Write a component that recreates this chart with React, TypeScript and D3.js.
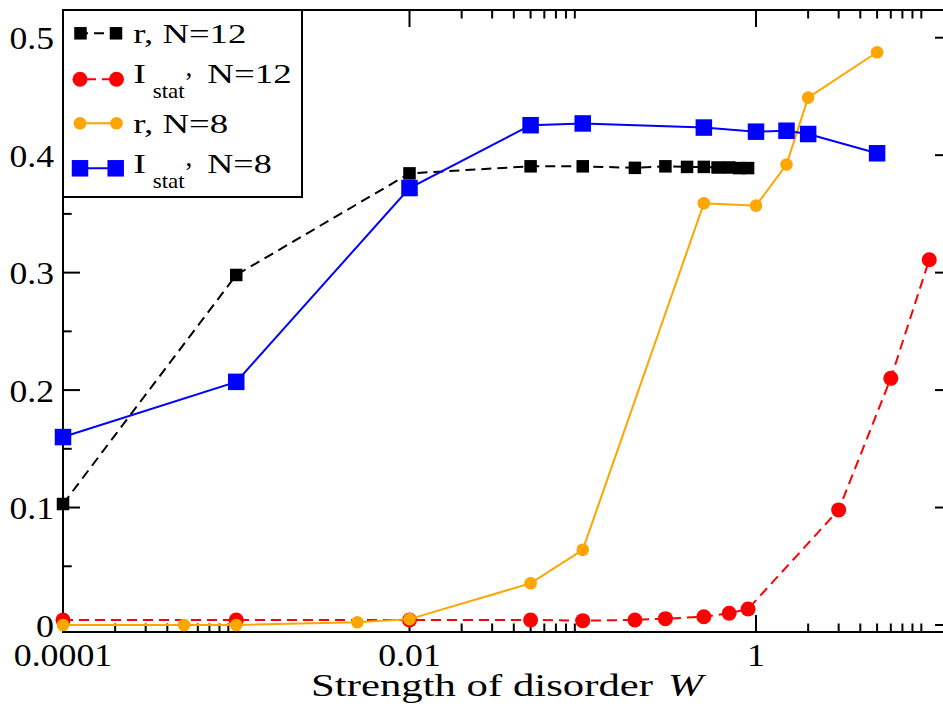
import React from "react";
import * as d3 from "d3";

// ---- data ----
const rN12X = [1e-4, 1e-3, 1e-2, 0.05, 0.1, 0.2, 0.3, 0.4, 0.5, 0.6, 0.7, 0.8, 0.9];
const rN12Y = [0.103, 0.298, 0.3845, 0.3905, 0.3905, 0.3892, 0.3905, 0.390, 0.390, 0.3895, 0.3895, 0.389, 0.389];

const iN12X = [1e-4, 1e-3, 1e-2, 0.05, 0.1, 0.2, 0.3, 0.5, 0.7, 0.9, 3, 6, 10];
const iN12Y = [0.0043, 0.0043, 0.0043, 0.0043, 0.0037, 0.0043, 0.0054, 0.007, 0.010, 0.0136, 0.098, 0.210, 0.311];

const rN8X = [1e-4, 5e-4, 1e-3, 5e-3, 1e-2, 0.05, 0.1, 0.5, 1, 1.5, 2, 5];
const rN8Y = [0.0, 0.0, 0.0, 0.0023, 0.005, 0.0355, 0.064, 0.359, 0.357, 0.392, 0.449, 0.4876];

const iN8X = [1e-4, 1e-3, 1e-2, 0.05, 0.1, 0.5, 1, 1.5, 2, 5];
const iN8Y = [0.160, 0.207, 0.372, 0.4255, 0.427, 0.4235, 0.420, 0.4208, 0.418, 0.4016];

const yTicks = [0, 0.1, 0.2, 0.3, 0.4, 0.5];
const yTickLabels = ["0", "0.1", "0.2", "0.3", "0.4", "0.5"];
const yMinorTicks = [0.05, 0.15, 0.25, 0.35, 0.45];
const xMajorTicks = [1e-4, 1e-2, 1];
const xTickLabels = ["0.0001", "0.01", "1"];
const minorMultipliers = [2, 3, 4, 5, 6, 7, 8, 9];

const FONT = '"Liberation Serif", "Times New Roman", Times, serif';

export default function App() {
  const W = 943, H = 713;
  const left = 63, right = 952, top = 10, bottom = 632;
  const decade = 173.25;
  const xMax = Math.pow(10, -4 + (right - left) / decade);
  const x = d3.scaleLog().domain([1e-4, xMax]).range([left, right]);
  const y = d3.scaleLinear().domain([0, 0.5]).range([625, 37.7]);

  const line = (xs: number[], ys: number[]) =>
    d3.line<number>().x((_, i) => x(xs[i])).y((_, i) => y(ys[i]))(xs) || "";

  const xMinor: number[] = [];
  xMajorTicks.forEach((m) => minorMultipliers.forEach((k) => xMinor.push(m * k)));

  const sq = (cx: number, cy: number, s: number, fill: string, key: string) => (
    <rect key={key} x={cx - s / 2} y={cy - s / 2} width={s} height={s} fill={fill} />
  );

  const legendRows = [0, 1, 2, 3];
  const legendLineY = [33.3, 79.3, 123.3, 168.3];
  const ts = (size: number, italic = false): React.CSSProperties => ({
    fontFamily: FONT,
    fontSize: size,
    fontStyle: italic ? "italic" : "normal",
  });
  // approximate glyph advance to fit target widths (Times-like proportions)
  const labelWidth = (s: string) =>
    s.split("").reduce((a, c) => a + (c === "." ? 8.5 : 18), 0);

  return (
    <svg width={W} height={H} style={{ position: "absolute", left: 0, top: 0, background: "#fff" }}>
      {/* frame */}
      <rect x={left} y={top} width={right - left} height={bottom - top} fill="none" stroke="#000" strokeWidth={2} />

      {/* y ticks */}
      {yTicks.map((t) => (
        <g key={"yt" + t}>
          <line x1={left} x2={left + 17} y1={y(t)} y2={y(t)} stroke="#000" strokeWidth={2} />
          <line x1={right} x2={right - 17} y1={y(t)} y2={y(t)} stroke="#000" strokeWidth={2} />
        </g>
      ))}
      {yMinorTicks.map((t) => (
        <g key={"ym" + t}>
          <line x1={left} x2={left + 8.7} y1={y(t)} y2={y(t)} stroke="#000" strokeWidth={2} />
          <line x1={right} x2={right - 8.7} y1={y(t)} y2={y(t)} stroke="#000" strokeWidth={2} />
        </g>
      ))}
      {yTicks.map((t, i) => {
        const w = labelWidth(yTickLabels[i]);
        return (
          <text key={"yl" + t} x={54 - w} y={y(t) + 11.5} style={ts(32)} textLength={w} lengthAdjust="spacingAndGlyphs">
            {yTickLabels[i]}
          </text>
        );
      })}

      {/* x ticks */}
      {xMajorTicks.map((t) => (
        <g key={"xt" + t}>
          <line x1={x(t)} x2={x(t)} y1={bottom} y2={bottom - 17} stroke="#000" strokeWidth={2} />
          <line x1={x(t)} x2={x(t)} y1={top} y2={top + 17} stroke="#000" strokeWidth={2} />
        </g>
      ))}
      {xMinor.map((t) => (
        <g key={"xm" + t}>
          <line x1={x(t)} x2={x(t)} y1={bottom} y2={bottom - 8.5} stroke="#000" strokeWidth={2} />
          <line x1={x(t)} x2={x(t)} y1={top} y2={top + 8.5} stroke="#000" strokeWidth={2} />
        </g>
      ))}
      {xMajorTicks.map((t, i) => {
        const w = labelWidth(xTickLabels[i]);
        return (
          <text key={"xl" + t} x={x(t) - w / 2} y={666} style={ts(32)} textLength={w} lengthAdjust="spacingAndGlyphs">
            {xTickLabels[i]}
          </text>
        );
      })}

      {/* axis title */}
      <text x={311} y={696} style={ts(32)} textLength={342} lengthAdjust="spacingAndGlyphs">
        Strength of disorder
      </text>
      <text x={668} y={696} style={ts(32, true)} textLength={35} lengthAdjust="spacingAndGlyphs">
        W
      </text>

      {/* series: r N=12 */}
      <path d={line(rN12X, rN12Y)} fill="none" stroke="#000" strokeWidth={2} strokeDasharray="10,6" />
      {rN12X.map((v, i) => sq(x(v), y(rN12Y[i]), 12.5, "#000", "b" + i))}

      {/* series: I_stat N=12 */}
      <path d={line(iN12X, iN12Y)} fill="none" stroke="#ff0000" strokeWidth={2} strokeDasharray="10,6" />
      {iN12X.map((v, i) => (
        <circle key={"r" + i} cx={x(v)} cy={y(iN12Y[i])} r={7.5} fill="#ff0000" />
      ))}

      {/* series: r N=8 */}
      <path d={line(rN8X, rN8Y)} fill="none" stroke="#ffa500" strokeWidth={2} />
      {rN8X.map((v, i) => (
        <circle key={"o" + i} cx={x(v)} cy={y(rN8Y[i])} r={6.3} fill="#ffa500" />
      ))}

      {/* series: I_stat N=8 */}
      <path d={line(iN8X, iN8Y)} fill="none" stroke="#0000ff" strokeWidth={2} />
      {iN8X.map((v, i) => sq(x(v), y(iN8Y[i]), 16.5, "#0000ff", "bl" + i))}

      {/* legend */}
      <rect x={63} y={10} width={239} height={187} fill="#fff" stroke="#000" strokeWidth={2} />
      {legendRows.map((r) => {
        const ly = legendLineY[r];
        if (r === 0)
          return (
            <g key="lg0">
              <line x1={76} x2={120} y1={ly} y2={ly} stroke="#000" strokeWidth={2} strokeDasharray="10,6" strokeDashoffset={-2} />
              {sq(80.5, ly, 12.5, "#000", "lg0a")}
              {sq(116, ly, 12.5, "#000", "lg0b")}
            </g>
          );
        if (r === 1)
          return (
            <g key="lg1">
              <line x1={80} x2={117} y1={ly} y2={ly} stroke="#ff0000" strokeWidth={2} strokeDasharray="10,6" strokeDashoffset={-6} />
              <circle cx={80} cy={ly} r={7.5} fill="#ff0000" />
              <circle cx={116.5} cy={ly} r={7.5} fill="#ff0000" />
            </g>
          );
        if (r === 2)
          return (
            <g key="lg2">
              <line x1={80} x2={117} y1={ly} y2={ly} stroke="#ffa500" strokeWidth={2} />
              <circle cx={80} cy={ly} r={6.3} fill="#ffa500" />
              <circle cx={116.5} cy={ly} r={6.3} fill="#ffa500" />
            </g>
          );
        return (
          <g key="lg3">
            <line x1={80} x2={116} y1={ly} y2={ly} stroke="#0000ff" strokeWidth={2} />
            {sq(80, ly, 16.5, "#0000ff", "lg3a")}
            {sq(115.7, ly, 16.5, "#0000ff", "lg3b")}
          </g>
        );
      })}

      <text x={133.3} y={43.3} style={ts(27)} textLength={113} lengthAdjust="spacingAndGlyphs">r, N=12</text>

      <text x={133.3} y={83.3} style={ts(27)} textLength={12.7} lengthAdjust="spacingAndGlyphs">I</text>
      <text x={152.7} y={98.3} style={ts(21)} textLength={32} lengthAdjust="spacingAndGlyphs">stat</text>
      <text x={185.5} y={76} style={ts(27)}>,</text>
      <text x={207.3} y={83.3} style={ts(27)} textLength={84.4} lengthAdjust="spacingAndGlyphs">N=12</text>

      <text x={133.3} y={133.3} style={ts(27)} textLength={95} lengthAdjust="spacingAndGlyphs">r, N=8</text>

      <text x={133.3} y={173.3} style={ts(27)} textLength={12.7} lengthAdjust="spacingAndGlyphs">I</text>
      <text x={152.7} y={188.3} style={ts(21)} textLength={32} lengthAdjust="spacingAndGlyphs">stat</text>
      <text x={185.5} y={166} style={ts(27)}>,</text>
      <text x={207.3} y={173.3} style={ts(27)} textLength={64.4} lengthAdjust="spacingAndGlyphs">N=8</text>
    </svg>
  );
}
